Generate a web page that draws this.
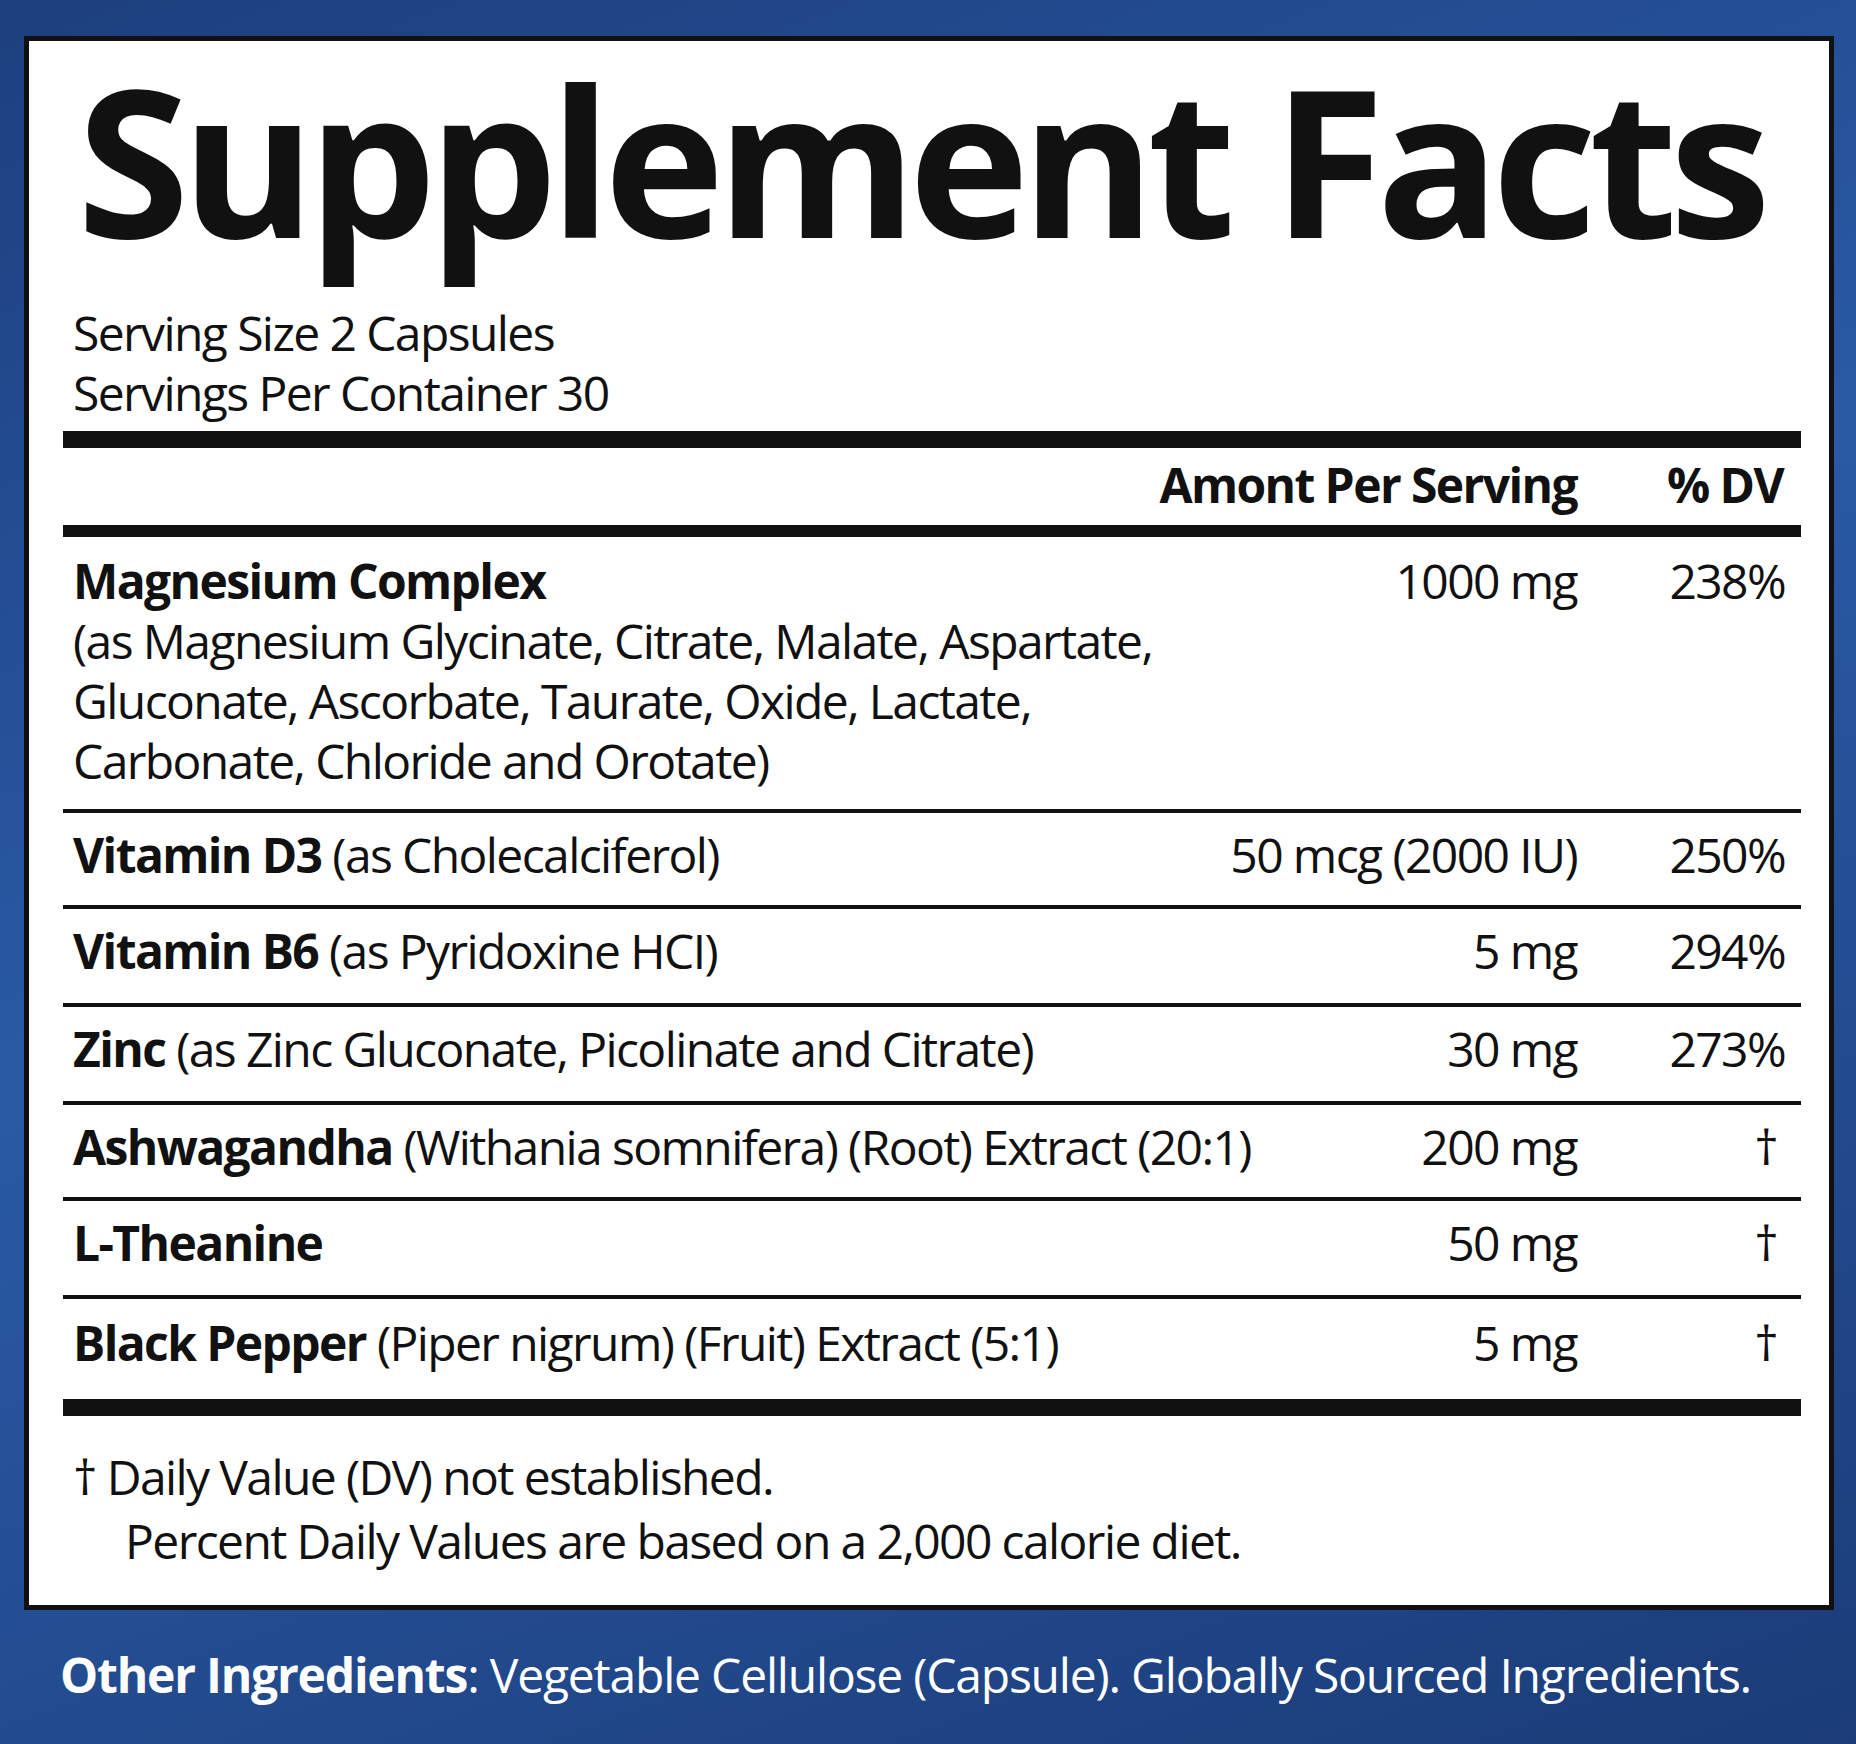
<!DOCTYPE html>
<html>
<head>
<meta charset="utf-8">
<script src="https://cdn.jsdelivr.net/npm/chart.js@4"></script>
<style>
  html, body { margin: 0; padding: 0; }
  body {
    width: 1856px; height: 1744px; overflow: hidden; position: relative;
    background: linear-gradient(160deg, #1d3f7e 0%, #2a5aa6 45%, #1b3c78 100%);
    font-family: "Open Sans", sans-serif; color: #111;
  }
  #card {
    position: absolute; left: 24px; top: 36px; width: 1800px; height: 1564px;
    background: #fff; border: 5px solid #111;
  }
  .abs { position: absolute; white-space: nowrap; }
  #title { left: 48px; font-size: 204px; font-weight: 700; letter-spacing: -8px; line-height: 1; }
  .txt { font-size: 48px; letter-spacing: -1.6px; line-height: 60px; }
  .bar { position: absolute; left: 34px; width: 1738px; background: #111; }
  .r { text-align: right; }
  #other { left: 60px; top: 1642px; color: #fff; font-size: 48px; letter-spacing: -1.2px; }
</style>
</head>
<body>
<div id="card"></div>
<script>
const servingSize = "Serving Size 2 Capsules";
const servingsPer = "Servings Per Container 30";
const headers = ["Amont Per Serving", "% DV"];
const names = ["Magnesium Complex", "Vitamin D3", "Vitamin B6", "Zinc", "Ashwagandha", "L-Theanine", "Black Pepper"];
const details = [
  "(as Magnesium Glycinate, Citrate, Malate, Aspartate,\nGluconate, Ascorbate, Taurate, Oxide, Lactate,\nCarbonate, Chloride and Orotate)",
  "(as Cholecalciferol)", "(as Pyridoxine HCI)", "(as Zinc Gluconate, Picolinate and Citrate)",
  "(Withania somnifera) (Root) Extract (20:1)", "", "(Piper nigrum) (Fruit) Extract (5:1)"
];
const amounts = ["1000 mg", "50 mcg (2000 IU)", "5 mg", "30 mg", "200 mg", "50 mg", "5 mg"];
const dvs = ["238%", "250%", "294%", "273%", "†", "†", "†"];
const footnotes = ["† Daily Value (DV) not established.", "Percent Daily Values are based on a 2,000 calorie diet."];
const otherLabel = "Other Ingredients";
const otherText = ": Vegetable Cellulose (Capsule).  Globally Sourced Ingredients.";

const card = document.getElementById("card");
function add(cls, top, html, extra) {
  const d = document.createElement("div");
  d.className = "abs " + cls;
  d.style.top = top + "px";
  Object.assign(d.style, extra || {});
  d.innerHTML = html;
  card.appendChild(d);
  return d;
}
function bar(top, h) {
  const d = document.createElement("div");
  d.className = "bar"; d.style.top = top + "px"; d.style.height = h + "px";
  card.appendChild(d);
}
add("", 16, "Supplement Facts", {}).id = "title";
add("txt", 262, servingSize + "<br>" + servingsPer, { left: "44px" });
bar(390, 17);
add("txt", 414, "<b>" + headers[0] + "</b>", { right: "252px" });
add("txt", 414, "<b>" + headers[1] + "</b>", { right: "46px" });
bar(484, 12);

const rowTops = [510, 784, 880, 978, 1076, 1172, 1272];
const lineTops = [768, 864, 962, 1060, 1156, 1254];
names.forEach((n, i) => {
  const top = rowTops[i];
  const det = details[i].replace(/\n/g, "<br>");
  if (i === 0) {
    add("txt", top, "<b>" + n + "</b><br>" + det, { left: "44px" });
  } else {
    add("txt", top, "<b>" + n + "</b> " + det, { left: "44px" });
  }
  add("txt r", top, amounts[i], { right: "252px" });
  add("txt r", top, dvs[i], { right: dvs[i] === "†" ? "52px" : "44px" });
});
lineTops.forEach(t => bar(t, 4));
bar(1358, 17);
add("txt", 1406, footnotes[0], { left: "44px" });
add("txt", 1470, footnotes[1], { left: "96px" });

const o = document.createElement("div");
o.className = "abs"; o.id = "other";
o.innerHTML = "<b>" + otherLabel + "</b>" + otherText;
document.body.appendChild(o);
</script>
</body>
</html>
